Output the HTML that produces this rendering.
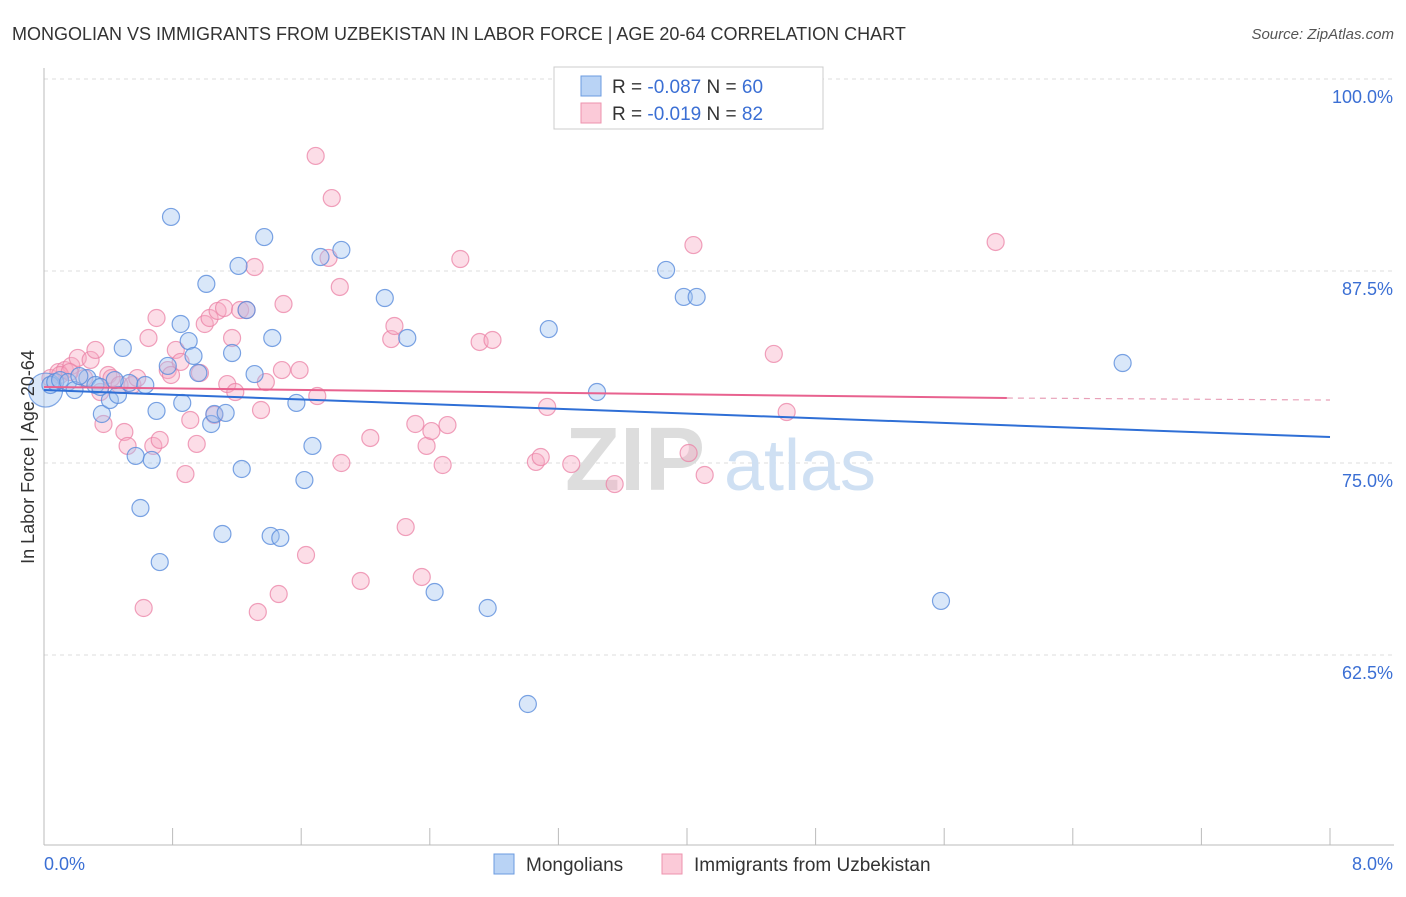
<!DOCTYPE html>
<html><head><meta charset="utf-8"><style>
body{margin:0;background:#fff;font-family:"Liberation Sans",sans-serif;}
svg text{font-family:"Liberation Sans",sans-serif;}
</style></head><body>
<svg id="chart" width="1406" height="892" xmlns="http://www.w3.org/2000/svg">
<text x="12" y="40" font-size="18" fill="#333">MONGOLIAN VS IMMIGRANTS FROM UZBEKISTAN IN LABOR FORCE | AGE 20-64 CORRELATION CHART</text>
<text x="1394" y="39" font-size="15" fill="#555" text-anchor="end" font-style="italic">Source: ZipAtlas.com</text>
<g id="grid"></g>
<g id="axes"></g>
<text x="635" y="490" font-size="90" fill="#ddd" font-family="Liberation Serif" font-weight="bold" text-anchor="middle">ZIP</text>
<text x="800" y="490" font-size="72" fill="#cfe0f3" text-anchor="middle">atlas</text>
<g id="marks"></g>
<text transform="translate(34,457) rotate(-90)" font-size="18" fill="#333" text-anchor="middle">In Labor Force | Age 20-64</text>
<text x="44" y="870" font-size="18" fill="#3b6fd4">0.0%</text>
<text x="1393" y="870" font-size="18" fill="#3b6fd4" text-anchor="end">8.0%</text>
<g>
<rect x="554" y="67" width="269" height="62" fill="#fff" stroke="#ccc"/>
<rect x="581" y="76" width="20" height="20" fill="#b9d3f5" stroke="#6b9be0"/>
<rect x="581" y="103" width="20" height="20" fill="#fbcad8" stroke="#ee93ae"/>
<text x="612" y="93" font-size="19" fill="#333">R = <tspan fill="#3b6fd4">-0.087</tspan>   N = <tspan fill="#3b6fd4">60</tspan></text>
<text x="612" y="120" font-size="19" fill="#333">R =  <tspan fill="#3b6fd4">-0.019</tspan>   N =  <tspan fill="#3b6fd4">82</tspan></text>
</g>
<g>
<rect x="494" y="854" width="20" height="20" fill="#b9d3f5" stroke="#6b9be0"/>
<text x="526" y="871" font-size="19" fill="#333">Mongolians</text>
<rect x="662" y="854" width="20" height="20" fill="#fbcad8" stroke="#ee93ae"/>
<text x="694" y="871" font-size="19" fill="#333">Immigrants from Uzbekistan</text>
</g>
</svg>
<script>
const yTicks=[100,87.5,75,62.5];
const yTickLabels=["100.0%","87.5%","75.0%","62.5%"];
const xTicks=[0,0.8,1.6,2.4,3.2,4.0,4.8,5.6,6.4,7.2,8.0];
const blueX=[0.04,0.07,0.10,0.15,0.19,0.27,0.32,0.36,0.41,0.46,0.49,0.53,0.57,0.60,0.63,0.67,0.70,0.72,0.77,0.79,0.85,0.86,0.90,0.93,0.96,1.01,1.04,1.06,1.11,1.13,1.17,1.21,1.23,1.26,1.31,1.37,1.41,1.42,1.47,1.57,1.62,1.67,1.72,1.85,2.12,2.26,2.43,2.76,3.01,3.14,3.44,3.87,3.98,4.06,5.58,6.71,0.22,0.35,0.44];
const blueY=[80.08,80.27,80.40,80.27,79.75,80.53,80.08,78.19,79.10,79.43,82.49,80.21,75.46,72.07,80.08,75.20,78.39,68.55,81.32,91.02,84.05,78.91,82.94,81.97,80.86,86.66,77.54,78.19,70.38,78.26,82.16,87.83,74.61,84.96,80.79,89.71,70.25,83.14,70.12,78.91,73.89,76.11,88.41,88.87,85.74,83.14,66.60,65.56,59.31,83.72,79.62,87.57,85.81,85.81,66.02,81.51,80.66,79.95,80.40];
const pinkX=[0.04,0.09,0.13,0.17,0.21,0.25,0.29,0.32,0.35,0.37,0.40,0.42,0.47,0.50,0.52,0.55,0.58,0.62,0.65,0.68,0.70,0.72,0.77,0.79,0.82,0.85,0.88,0.91,0.95,0.97,1.00,1.03,1.06,1.08,1.12,1.14,1.17,1.19,1.22,1.26,1.31,1.33,1.35,1.38,1.46,1.48,1.49,1.59,1.63,1.69,1.70,1.77,1.79,1.84,1.85,1.97,2.03,2.16,2.18,2.25,2.31,2.35,2.38,2.41,2.48,2.51,2.59,2.71,2.79,3.06,3.09,3.13,3.28,3.55,4.01,4.04,4.11,4.54,4.62,5.92,0.10,0.16];
const pinkY=[80.53,80.92,81.05,81.32,81.84,80.53,81.71,82.36,79.62,77.54,80.73,80.53,80.08,77.02,76.11,80.08,80.53,65.56,83.14,76.11,84.44,76.50,81.05,80.73,82.36,81.58,74.28,77.80,76.24,80.86,84.05,84.44,78.13,84.90,85.09,80.14,83.14,79.62,84.96,84.96,87.76,65.30,78.45,80.27,66.47,81.05,85.35,81.05,69.01,94.99,79.36,88.35,92.25,86.46,75.00,67.32,76.63,83.07,83.92,70.83,77.54,67.58,76.11,77.08,74.87,77.47,88.28,82.88,83.01,75.07,75.39,78.65,74.93,73.63,75.65,89.19,74.22,82.10,78.32,89.39,80.73,80.92];
const blueTrend=[79.75,76.69];
const pinkTrend=[79.95,79.23,79.10];
const pinkTrendEnd=5.99;

const NS="http://www.w3.org/2000/svg";
function sx(v){return 44+v/8*1286;}
function sy(v){return 79+(100-v)/12.5*192;}
function mk(tag,attrs,parent){const e=document.createElementNS(NS,tag);for(const k in attrs)e.setAttribute(k,attrs[k]);parent.appendChild(e);return e;}
const grid=document.getElementById('grid'),axes=document.getElementById('axes'),marks=document.getElementById('marks');
yTicks.forEach((t,i)=>{
 const l=mk('line',{x1:44,x2:1394,y1:sy(t),y2:sy(t),stroke:'#ddd','stroke-dasharray':'4,4'},grid);
 
 
 const tx=mk('text',{x:1393,y:sy(t)+24,'font-size':18,fill:'#3b6fd4','text-anchor':'end'},grid);
 tx.textContent=yTickLabels[i];
 
 
});
mk('line',{x1:44,x2:44,y1:68,y2:845,stroke:'#bbb'},axes);
mk('line',{x1:44,x2:1394,y1:845,y2:845,stroke:'#bbb'},axes);
xTicks.forEach(t=>{
 const l=mk('line',{x1:sx(t),x2:sx(t),y1:828,y2:845,stroke:'#bbb'},axes);
 
 
});
pinkX.forEach((x,i)=>{
 const c=mk('circle',{cx:sx(x),cy:sy(pinkY[i]),r:8.5,fill:'rgba(247,170,195,0.4)',stroke:'rgba(235,130,165,0.75)','stroke-width':1.2},marks);
 
 
});
const big=mk('circle',{cx:sx(0.01),cy:sy(79.75),r:17,fill:'rgba(160,195,240,0.4)',stroke:'rgba(90,140,220,0.75)','stroke-width':1.2},marks);


blueX.forEach((x,i)=>{
 const c=mk('circle',{cx:sx(x),cy:sy(blueY[i]),r:8.5,fill:'rgba(160,195,240,0.4)',stroke:'rgba(90,140,220,0.8)','stroke-width':1.2},marks);
 
 
});
const bt=mk('line',{x1:sx(0),y1:sy(blueTrend[0]),x2:sx(8),y2:sy(blueTrend[1]),stroke:'#2f6fd6','stroke-width':2},marks);


const pt=mk('line',{x1:sx(0),y1:sy(pinkTrend[0]),x2:sx(pinkTrendEnd),y2:sy(pinkTrend[1]),stroke:'#e8628f','stroke-width':2},marks);


const pd=mk('line',{x1:sx(pinkTrendEnd),y1:sy(pinkTrend[1]),x2:sx(8),y2:sy(pinkTrend[2]),stroke:'#e8a0b8','stroke-width':1.2,'stroke-dasharray':'6,5'},marks);


</script>
</body></html>
